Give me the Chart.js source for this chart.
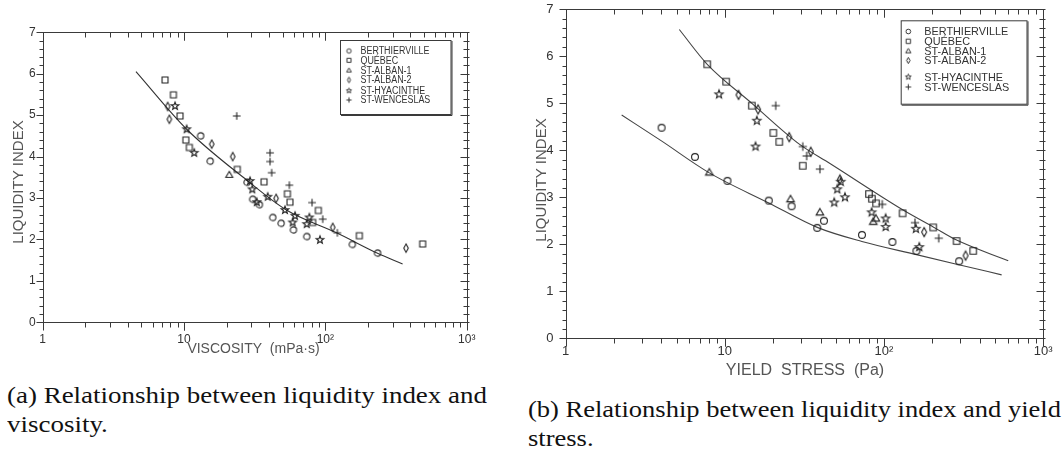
<!DOCTYPE html>
<html>
<head>
<meta charset="utf-8">
<script src="https://cdn.jsdelivr.net/npm/chart.js@4/dist/chart.umd.min.js"></script>
<style>
  html, body { margin: 0; padding: 0; background: #fff; }
  body { width: 1062px; height: 459px; position: relative; overflow: hidden; }
  canvas { position: absolute; top: 0; }
  #chartA { left: 0; }
  #chartB { left: 530px; }
  .caption { position: absolute; font-family: "Liberation Serif", "Times New Roman", Times, serif; font-size: 24px; color: #111; white-space: nowrap; transform-origin: 0 0; }
  .caption div { height: 29px; line-height: 29px; }
</style>
</head>
<body>
<canvas id="chartA" width="530" height="365"></canvas>
<canvas id="chartB" width="532" height="392"></canvas>
<div class="caption" id="capA" style="left:7px; top:381px;"><div><span>(a) Relationship between liquidity index and</span></div><div>viscosity.</div></div>
<div class="caption" id="capB" style="left:528px; top:395px;"><div><span>(b) Relationship between liquidity index and yield</span></div><div>stress.</div></div>
<script>
// axis ticks
const xTickValues = [1, 10, 100, 1000];
const xTickLabels = ['1', '10', '10²', '10³'];
const yTickValues = [0, 1, 2, 3, 4, 5, 6, 7];
const siteNames = ['BERTHIERVILLE', 'QUÉBEC', 'ST-ALBAN-1', 'ST-ALBAN-2', 'ST-HYACINTHE', 'ST-WENCESLAS'];
const siteMarkers = ['circle', 'square', 'triangle', 'diamond', 'star', 'plus'];

// (a) liquidity index vs viscosity (mPa·s), [x, y]
const viscBerthierville = [[13.1, 4.50], [15.3, 3.89], [27.9, 3.38], [30.6, 2.97], [34.1, 2.84], [42.4, 2.53], [48.6, 2.39], [59.4, 2.23], [73.8, 2.07], [155, 1.88], [234, 1.67]];
const viscQuebec = [[7.34, 5.85], [8.41, 5.49], [9.37, 4.98], [10.3, 4.40], [10.9, 4.22], [23.8, 3.69], [36.8, 3.39], [53.9, 3.10], [56.2, 2.90], [81.3, 2.41], [89.2, 2.70], [174, 2.09], [488, 1.89]];
const viscStAlban1 = [[20.9, 3.56]];
const viscStAlban2 = [[7.66, 5.21], [7.87, 4.90], [15.7, 4.30], [22.1, 4.00], [44.8, 2.99], [112.7, 2.29], [372, 1.79]];
const viscStHyacinthe = [[8.64, 5.22], [10.44, 4.66], [11.8, 4.09], [29.3, 3.41], [30.4, 3.21], [32.7, 2.90], [39.1, 3.03], [51.8, 2.71], [58.7, 2.41], [61.0, 2.57], [73.8, 2.37], [77.0, 2.53], [91.6, 1.99]];
const viscStWenceslas = [[23.6, 4.98], [40.6, 4.09], [40.6, 3.88], [41.7, 3.61], [55.6, 3.31], [80.5, 2.89], [95.8, 2.49], [121.6, 2.16]];
const viscFit = [[4.57, 6.05], [10.44, 4.66], [27.8, 3.43], [53, 2.71], [120, 2.16], [234, 1.665], [352, 1.41]];

// (b) liquidity index vs yield stress (Pa), [x, y]
const yieldBerthierville = [[4.01, 4.48], [6.50, 3.86], [10.4, 3.35], [18.9, 2.93], [26.3, 2.81], [38.1, 2.35], [42.0, 2.50], [72.8, 2.20], [113, 2.05], [160, 1.86], [297, 1.64]];
const yieldQuebec = [[7.76, 5.83], [10.2, 5.46], [14.8, 4.95], [20.2, 4.37], [22.0, 4.18], [30.9, 3.67], [80.5, 3.07], [84, 2.97], [89.3, 2.87], [131, 2.66], [204, 2.36], [286, 2.07], [364, 1.86]];
const yieldStAlban1 = [[8.0, 3.53], [25.9, 2.96], [39.6, 2.68], [85.7, 2.48], [89, 2.55]];
const yieldStAlban2 = [[12.2, 5.18], [16.2, 4.87], [25.4, 4.28], [34.7, 3.97], [52.9, 3.38], [179, 2.26], [326, 1.76]];
const yieldStHyacinthe = [[9.2, 5.19], [15.9, 4.63], [15.6, 4.08], [53.5, 3.33], [50.9, 3.17], [48.7, 2.89], [56.9, 3.0], [83.7, 2.68], [102.5, 2.55], [102.5, 2.37], [158.8, 2.33], [166.7, 1.94]];
const yieldStWenceslas = [[20.9, 4.95], [30.9, 4.08], [32.7, 3.88], [39.6, 3.60], [97.6, 2.85], [156.6, 2.46], [221, 2.13]];
const yieldUpperFit = [[5.18, 6.57], [7.76, 5.83], [14.8, 5.00], [29.7, 4.12], [45.8, 3.72], [132, 2.73], [204, 2.37], [286, 2.09], [604, 1.65]];
const yieldLowerFit = [[2.25, 4.75], [4.0, 4.2], [8.0, 3.52], [18.9, 2.88], [38.1, 2.36], [72.7, 2.06], [160, 1.78], [300, 1.56], [549, 1.35]];

const FONT = '"Liberation Sans", Arial, sans-serif';

// small canvases used as point styles
function makeMarker(kind, s, color, lw) {
  const size = Math.ceil(s * 2.6 + 4);
  const c = document.createElement('canvas');
  c.width = size; c.height = size;
  const g = c.getContext('2d');
  const m = size / 2;
  g.strokeStyle = color;
  g.lineWidth = lw;
  g.beginPath();
  if (kind === 'circle') {
    g.arc(m, m, s * 0.9, 0, Math.PI * 2);
  } else if (kind === 'square') {
    g.rect(m - s * 0.85, m - s * 0.85, s * 1.7, s * 1.7);
  } else if (kind === 'triangle') {
    g.moveTo(m, m - s); g.lineTo(m + s, m + s * 0.7); g.lineTo(m - s, m + s * 0.7); g.closePath();
  } else if (kind === 'diamond') {
    g.moveTo(m, m - s * 1.2); g.lineTo(m + s * 0.65, m); g.lineTo(m, m + s * 1.2); g.lineTo(m - s * 0.65, m); g.closePath();
  } else if (kind === 'star') {
    for (let i = 0; i < 10; i++) {
      const r = i % 2 ? s * 0.48 : s * 1.15;
      const t = -Math.PI / 2 + i * Math.PI / 5;
      const px = m + r * Math.cos(t), py = m + r * Math.sin(t);
      if (i) g.lineTo(px, py); else g.moveTo(px, py);
    }
    g.closePath();
  } else if (kind === 'plus') {
    g.moveTo(m - s * 1.1, m); g.lineTo(m + s * 1.1, m);
    g.moveTo(m, m - s * 1.1); g.lineTo(m, m + s * 1.1);
  }
  g.stroke();
  return c;
}

const toXY = arr => arr.map(([x, y]) => ({ x, y }));

function pointSets(series, markers) {
  return series.map((arr, i) => ({
    label: siteNames[i],
    data: toXY(arr),
    pointStyle: markers[i],
    pointRadius: 4,
    showLine: false
  }));
}

function fitSet(arr, color) {
  return {
    label: 'fit',
    data: toXY(arr),
    showLine: true,
    pointRadius: 0,
    borderColor: color,
    borderWidth: 1.1,
    cubicInterpolationMode: 'monotone',
    fill: false
  };
}

// frame, inner ticks, axis titles and boxed legend
const decor = {
  id: 'decor',
  afterDraw(chart, args, o) {
    const { ctx, chartArea: a } = chart;
    const x = chart.scales.x, y = chart.scales.y;
    const L = Math.round(a.left) + 0.5, R = Math.round(a.right) + 0.5;
    const T = Math.round(a.top) + 0.5, B = Math.round(a.bottom) + 0.5;
    ctx.save();
    ctx.strokeStyle = o.lineColor;
    ctx.lineWidth = 1;
    ctx.strokeRect(L, T, R - L, B - T);

    ctx.beginPath();
    [1, 10, 100].forEach(d => {
      for (let k = 1; k <= 10; k++) {
        const px = Math.round(x.getPixelForValue(d * k)) + 0.5;
        const len = (k === 1 || k === 10) ? 8 : 5;
        ctx.moveTo(px, B); ctx.lineTo(px, B + len);
        ctx.moveTo(px, T); ctx.lineTo(px, T + len);
      }
    });
    for (let i = 0; i <= 35; i++) {
      const py = Math.round(y.getPixelForValue(i / 5)) + 0.5;
      const len = i % 5 === 0 ? 7 : 4;
      ctx.moveTo(L - len, py); ctx.lineTo(L, py);
      ctx.moveTo(R - len, py); ctx.lineTo(R + 2, py);
    }
    ctx.stroke();

    // axis titles
    ctx.fillStyle = o.titleColor;
    ctx.textAlign = 'center';
    ctx.textBaseline = 'middle';
    ctx.font = o.xTitle.size + 'px ' + FONT;
    ctx.fillText(o.xTitle.text, o.xTitle.x, o.xTitle.y);
    ctx.save();
    ctx.translate(o.yTitle.x, o.yTitle.y);
    ctx.rotate(-Math.PI / 2);
    ctx.font = o.yTitle.size + 'px ' + FONT;
    ctx.fillText(o.yTitle.text, 0, 0);
    ctx.restore();

    // legend
    const lg = o.legend;
    ctx.strokeStyle = o.lineColor;
    ctx.strokeRect(lg.box[0] + 0.5, lg.box[1] + 0.5, lg.box[2] - lg.box[0], lg.box[3] - lg.box[1]);
    ctx.beginPath();
    ctx.moveTo(lg.box[0] + 1, lg.box[3] + 1.5); ctx.lineTo(lg.box[2] + 1.5, lg.box[3] + 1.5); ctx.lineTo(lg.box[2] + 1.5, lg.box[1] + 1);
    ctx.stroke();
    ctx.font = lg.size + 'px ' + FONT;
    const sx = lg.width / ctx.measureText(siteNames[0]).width;
    ctx.textAlign = 'left';
    ctx.fillStyle = o.textColor;
    siteNames.forEach((name, i) => {
      const m = lg.markers[i];
      ctx.drawImage(m, lg.symX - m.width / 2, lg.rows[i] - m.height / 2);
      ctx.save();
      ctx.translate(lg.textX, lg.rows[i]);
      ctx.scale(sx, 1);
      ctx.fillText(name, 0, 0.5);
      ctx.restore();
    });
    ctx.restore();
  }
};

function scalesFor(s) {
  return {
    x: {
      type: 'logarithmic', min: 1, max: 1000,
      grid: { display: false, drawTicks: false },
      border: { display: false },
      afterBuildTicks: sc => { sc.ticks = xTickValues.map(v => ({ value: v })); },
      afterFit: sc => { sc.height = s.xHeight; sc.paddingLeft = 0; sc.paddingRight = 0; },
      ticks: {
        autoSkip: false, maxRotation: 0, padding: s.xPad, color: '#333',
        font: { family: FONT, size: s.tickSize },
        callback: v => { const i = xTickValues.indexOf(v); return i < 0 ? '' : xTickLabels[i]; }
      }
    },
    y: {
      type: 'linear', min: 0, max: 7,
      grid: { display: false, drawTicks: false },
      border: { display: false },
      afterBuildTicks: sc => { sc.ticks = yTickValues.map(v => ({ value: v })); },
      afterFit: sc => { sc.width = s.yWidth; sc.paddingTop = 0; sc.paddingBottom = 0; },
      ticks: {
        padding: s.yPad, color: '#333',
        font: { family: FONT, size: s.tickSize },
        callback: v => String(v)
      }
    }
  };
}

const markersA = siteMarkers.map(k => makeMarker(k, 3.5, '#222', 1.1));
const markersB = siteMarkers.map(k => makeMarker(k, 3.8, '#222', 1.1));
const legendMarkersA = siteMarkers.map(k => makeMarker(k, 2.4, '#333', 1));
const legendMarkersB = siteMarkers.map(k => makeMarker(k, 2.6, '#333', 1));

new Chart(document.getElementById('chartA'), {
  type: 'scatter',
  data: {
    datasets: [
      ...pointSets([viscBerthierville, viscQuebec, viscStAlban1, viscStAlban2, viscStHyacinthe, viscStWenceslas], markersA),
      fitSet(viscFit, '#333')
    ]
  },
  options: {
    responsive: false, animation: false, events: [],
    layout: { padding: { left: 0, right: 63.3, top: 32.3, bottom: 0 } },
    plugins: {
      legend: { display: false },
      tooltip: { enabled: false },
      decor: {
        lineColor: '#3a3a3a', titleColor: '#555', textColor: '#333',
        xTitle: { text: 'VISCOSITY  (mPa·s)', x: 253.5, y: 349, size: 14 },
        yTitle: { text: 'LIQUIDITY INDEX', x: 18.7, y: 182, size: 15 },
        legend: { box: [340, 40, 450.5, 114], symX: 349, textX: 360.5, rows: [51, 60.3, 70.3, 80, 90.7, 100], size: 10, width: 69, markers: legendMarkersA }
      }
    },
    scales: scalesFor({ xHeight: 42.7, yWidth: 42.7, xPad: 10, yPad: 7, tickSize: 12 })
  },
  plugins: [decor]
});

new Chart(document.getElementById('chartB'), {
  type: 'scatter',
  data: {
    datasets: [
      ...pointSets([yieldBerthierville, yieldQuebec, yieldStAlban1, yieldStAlban2, yieldStHyacinthe, yieldStWenceslas], markersB),
      fitSet(yieldUpperFit, '#444'),
      fitSet(yieldLowerFit, '#444')
    ]
  },
  options: {
    responsive: false, animation: false, events: [],
    layout: { padding: { left: 0, right: 18.9, top: 9.3, bottom: 0 } },
    plugins: {
      legend: { display: false },
      tooltip: { enabled: false },
      decor: {
        lineColor: '#3a3a3a', titleColor: '#555', textColor: '#333',
        xTitle: { text: 'YIELD  STRESS  (Pa)', x: 275, y: 371, size: 16 },
        yTitle: { text: 'LIQUIDITY INDEX', x: 12, y: 180, size: 15 },
        legend: { box: [370.7, 20.3, 496.5, 103.7], symX: 378.3, textX: 394.3, rows: [31.5, 41.3, 51, 60.5, 77, 87], size: 11, width: 84, markers: legendMarkersB }
      }
    },
    scales: scalesFor({ xHeight: 53.7, yWidth: 35.6, xPad: 5, yPad: 12, tickSize: 13 })
  },
  plugins: [decor]
});

// stretch the captions to the width of the printed lines
[['capA', 480], ['capB', 533]].forEach(([id, target]) => {
  const el = document.getElementById(id);
  const w = el.querySelector('span').getBoundingClientRect().width;
  el.style.transform = 'scaleX(' + (target / w) + ')';
});
</script>
</body>
</html>
